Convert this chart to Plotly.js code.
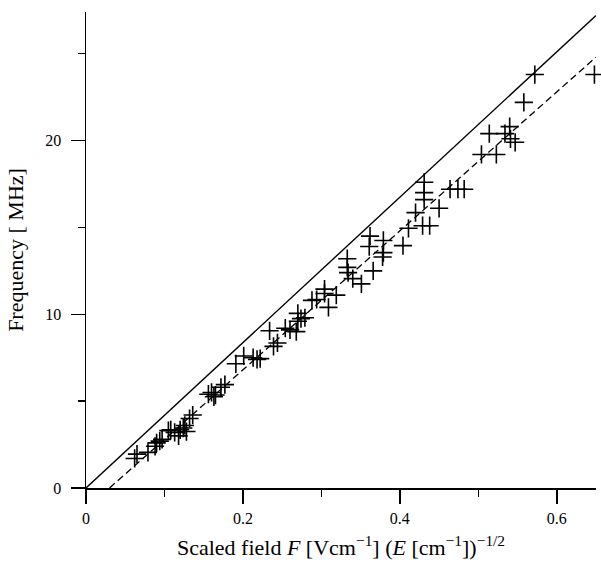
<!DOCTYPE html>
<html>
<head>
<meta charset="utf-8">
<script src="https://cdn.plot.ly/plotly-3.0.1.min.js"></script>
<style>html,body{margin:0;padding:0;background:#fff;}#chart{width:601px;height:564px;}</style>
</head>
<body>
<div id="chart"></div>
<script>
// Measured points: scaled field F vs frequency (MHz)
const fieldX = [0.062,0.065,0.079,0.088,0.090,0.094,0.097,0.105,0.108,0.113,0.118,0.120,0.124,0.126,0.128,0.132,0.136,
  0.156,0.160,0.163,0.165,0.172,0.177,0.191,0.201,0.213,0.218,0.222,0.234,0.239,0.244,0.254,0.260,0.268,0.270,0.270,
  0.274,0.279,0.288,0.294,0.304,0.304,0.309,0.319,0.333,0.333,0.334,0.340,0.351,0.361,0.362,0.366,0.378,0.379,0.379,
  0.404,0.411,0.420,0.429,0.431,0.431,0.431,0.438,0.450,0.464,0.474,0.482,0.504,0.514,0.523,0.534,0.540,0.541,0.547,
  0.558,0.572,0.648];
const freqY = [1.7,1.95,2.05,2.4,2.6,2.7,2.8,3.3,3.35,3.2,3.0,3.35,3.45,3.6,3.25,4.0,4.2,
  5.4,5.5,5.25,5.35,5.8,5.95,7.15,7.6,7.5,7.4,7.45,9.05,8.15,8.35,9.2,9.1,9.0,9.6,10.05,
  9.75,9.8,10.8,10.85,11.45,11.2,10.4,11.1,13.2,12.7,12.4,12.05,11.75,13.9,14.5,12.5,13.3,13.55,14.25,
  13.95,14.95,15.85,15.1,17.6,17.0,16.6,15.1,16.1,17.2,17.2,17.2,19.2,20.4,19.2,20.4,20.8,20.1,19.9,
  22.2,23.8,23.8];
// Solid reference line and dashed fit line (endpoints)
const solidX = [0, 0.65];
const solidY = [0, 27.2];
const dashX = [0.030, 0.65];
const dashY = [0, 24.8];
// Axis ticks
const xTickVals = [0, 0.2, 0.4, 0.6];
const xTickText = ['0', '0.2', '0.4', '0.6'];
const yTickVals = [0, 10, 20];
const yTickText = ['0', '10', '20'];

const font = {family: '"Liberation Serif", "Times New Roman", serif', color: '#000'};

const traces = [
  {x: solidX, y: solidY, mode: 'lines', line: {color: '#000', width: 1.4}, hoverinfo: 'skip', cliponaxis: false},
  {x: dashX, y: dashY, mode: 'lines', line: {color: '#000', width: 1.3, dash: '7px,4px'}, hoverinfo: 'skip', cliponaxis: false},
  {x: fieldX, y: freqY, mode: 'markers', cliponaxis: false,
   marker: {symbol: 'cross-thin', size: 13, color: '#000', line: {color: '#000', width: 1.6}}}
];

const layout = {
  width: 601, height: 564,
  margin: {l: 86, r: 5, t: 12, b: 76},
  paper_bgcolor: '#fff', plot_bgcolor: '#fff',
  showlegend: false,
  font: Object.assign({size: 16}, font),
  xaxis: {
    range: [0, 0.65], showgrid: false, zeroline: false,
    showline: true, linecolor: '#000', linewidth: 1.5,
    ticks: 'outside', ticklen: 14, tickwidth: 1.5, tickcolor: '#000',
    tickvals: xTickVals, ticktext: xTickText, ticklabelstandoff: 1,
    tickfont: Object.assign({size: 16}, font),
    minor: {dtick: 0.1, tick0: 0, ticks: 'outside', ticklen: 7, tickwidth: 1.5, tickcolor: '#000', showgrid: false},
    title: {text: 'Scaled field <i>F</i> [Vcm<sup>−1</sup>] (<i>E</i> [cm<sup>−1</sup>])<sup>−1/2</sup>',
            font: Object.assign({size: 22}, font), standoff: 14}
  },
  yaxis: {
    range: [0, 27.4], showgrid: false, zeroline: false,
    showline: true, linecolor: '#000', linewidth: 1.5,
    ticks: 'outside', ticklen: 14, tickwidth: 1.5, tickcolor: '#000',
    tickvals: yTickVals, ticktext: yTickText, ticklabelstandoff: 6,
    tickfont: Object.assign({size: 16}, font),
    minor: {dtick: 5, tick0: 0, ticks: 'outside', ticklen: 7, tickwidth: 1.5, tickcolor: '#000', showgrid: false},
    title: {text: 'Frequency [ MHz]', font: Object.assign({size: 22}, font), standoff: 15}
  }
};

Plotly.newPlot('chart', traces, layout, {staticPlot: true, displayModeBar: false});
</script>
</body>
</html>
